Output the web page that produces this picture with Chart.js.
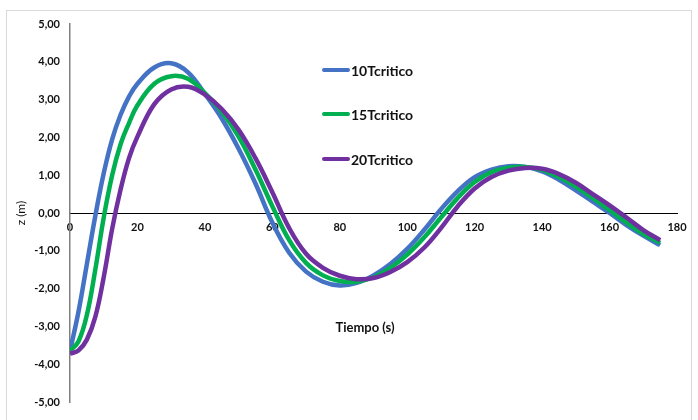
<!DOCTYPE html>
<html>
<head>
<meta charset="utf-8">
<script src="https://cdn.jsdelivr.net/npm/chart.js@4/dist/chart.umd.min.js"></script>
<style>
  html, body { margin:0; padding:0; background:#fff; }
  #wrap { position:relative; width:698px; height:420px; overflow:hidden; font-family: Lato, "Open Sans", sans-serif; }
  #frame { position:absolute; left:6px; top:10px; width:686px; height:420px; border:1px solid #d9d9d9; box-sizing:border-box; }
  canvas { position:absolute; left:0; top:0; }
  .leg { position:absolute; left:322px; height:16px; display:flex; align-items:center; font-weight:bold; font-size:14px; color:#111; white-space:nowrap; }
  .leg .sw { display:inline-block; width:28px; height:4px; border-radius:2px; margin-right:1px; }
  #xtitle { position:absolute; left:0; width:730px; top:319px; text-align:center; font-weight:bold; font-size:13px; color:#111; }
</style>
</head>
<body>
<div id="wrap">
  <div id="frame"></div>
  <canvas id="c" width="698" height="420"></canvas>
  <div id="legend"></div>
  <div id="xtitle">Tiempo (s)</div>
</div>
<script>
const seriesNames = ["10Tcritico", "15Tcritico", "20Tcritico"];
const seriesColors = ["#4472C4", "#00B050", "#7030A0"];
const xTicks = [0, 20, 40, 60, 80, 100, 120, 140, 160, 180];
const yTicks = [-5, -4, -3, -2, -1, 0, 1, 2, 3, 4, 5];
const xLabel = "Tiempo (s)";
const yLabel = "z (m)";

const time = [0, 2.5, 5, 7.5, 10, 12.5, 15, 17.5, 20, 25, 30, 35, 40, 45, 50, 55, 60, 65, 70, 75, 80, 85, 90, 95, 100, 105, 110, 115, 120, 125, 130, 135, 140, 145, 150, 155, 160, 165, 170, 175];

const z10 = [-3.65, -2.62, -1.35, -0.08, 1.05, 1.95, 2.60, 3.08, 3.42, 3.85, 3.96, 3.72, 3.15, 2.50, 1.70, 0.78, -0.25, -1.05, -1.55, -1.82, -1.92, -1.85, -1.65, -1.35, -0.95, -0.45, 0.10, 0.58, 0.95, 1.15, 1.24, 1.22, 1.10, 0.88, 0.60, 0.30, 0.00, -0.32, -0.60, -0.85];
const z15 = [-3.65, -3.40, -2.70, -1.50, -0.12, 1.00, 1.82, 2.38, 2.85, 3.42, 3.62, 3.55, 3.17, 2.68, 2.02, 1.15, 0.18, -0.72, -1.32, -1.65, -1.80, -1.82, -1.70, -1.45, -1.10, -0.65, -0.12, 0.40, 0.82, 1.08, 1.20, 1.22, 1.14, 0.95, 0.70, 0.40, 0.08, -0.25, -0.55, -0.79];
const z20 = [-3.72, -3.64, -3.35, -2.75, -1.70, -0.42, 0.62, 1.45, 2.02, 2.88, 3.27, 3.34, 3.13, 2.75, 2.20, 1.45, 0.55, -0.40, -1.08, -1.45, -1.66, -1.75, -1.72, -1.56, -1.30, -0.92, -0.40, 0.18, 0.65, 0.95, 1.12, 1.19, 1.17, 1.03, 0.80, 0.50, 0.20, -0.12, -0.45, -0.72];

const values = [z10, z15, z20];

const datasets = values.map((arr, i) => ({
  label: seriesNames[i],
  data: arr.map((v, k) => ({ x: time[k], y: v })),
  borderColor: seriesColors[i],
  backgroundColor: seriesColors[i],
  borderWidth: 4.5,
  pointRadius: 0,
  tension: 0.4,
  fill: false,
  order: 2 - i
}));

const tickFont = { family: 'Lato, "Open Sans", sans-serif', size: 11, weight: 'bold' };

new Chart(document.getElementById('c'), {
  type: 'line',
  data: { datasets },
  options: {
    responsive: false,
    animation: false,
    layout: { padding: { left: 10, top: 24, right: 21, bottom: 18 } },
    plugins: { legend: { display: false }, tooltip: { enabled: false } },
    scales: {
      x: {
        type: 'linear',
        position: { y: 0 },
        min: 0, max: 180,
        afterBuildTicks: (s) => { s.ticks = xTicks.map(v => ({ value: v })); },
        grid: { display: false, drawTicks: false },
        border: { display: true, color: '#000', width: 1 },
        ticks: { font: tickFont, color: '#111', padding: 8, maxRotation: 0, autoSkip: false, callback: v => String(v) }
      },
      y: {
        type: 'linear',
        min: -5, max: 5,
        afterBuildTicks: (s) => { s.ticks = yTicks.map(v => ({ value: v })); },
        afterFit: (s) => { s.width = 60; },
        grid: { display: false, drawTicks: false },
        border: { display: true, color: '#7f7f7f', width: 1.5 },
        ticks: { font: tickFont, color: '#111', padding: 10, autoSkip: false,
          callback: v => v.toFixed(2).replace('.', ',') },
        title: { display: true, text: yLabel, color: '#111', font: { family: 'Lato, "Open Sans", sans-serif', size: 12 }, padding: { top: 4, bottom: 0 } }
      }
    }
  }
});

const legendTops = [62, 106, 151];
const legend = document.getElementById('legend');
seriesNames.forEach((n, i) => {
  const d = document.createElement('div');
  d.className = 'leg';
  d.style.top = legendTops[i] + 'px';
  const sw = document.createElement('span');
  sw.className = 'sw';
  sw.style.background = seriesColors[i];
  d.appendChild(sw);
  d.appendChild(document.createTextNode(n));
  legend.appendChild(d);
});
document.getElementById('xtitle').textContent = xLabel;
</script>
</body>
</html>
